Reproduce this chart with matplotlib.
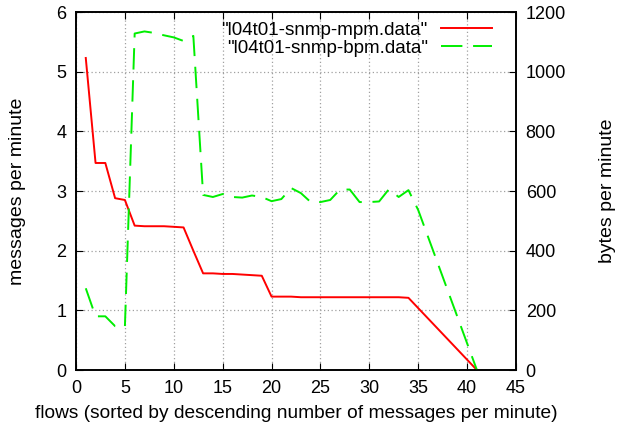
import matplotlib
matplotlib.use("Agg")
import matplotlib.pyplot as plt

plt.rcParams['font.family'] = ['Liberation Sans', 'DejaVu Sans']
plt.rcParams['font.size'] = 13

# flows sorted by messages per minute
mpm_x = [1, 2, 3, 4, 5, 6, 7, 8, 9, 10, 11, 12, 13, 14, 15, 16, 17, 18, 19,
         20, 21, 22, 23, 24, 25, 26, 27, 28, 29, 30, 31, 32, 33, 34, 41]
mpm_y = [5.23, 3.47, 3.47, 2.88, 2.85, 2.42, 2.41, 2.41, 2.41, 2.40, 2.39, 2.0,
         1.62, 1.62, 1.61, 1.61, 1.60, 1.59, 1.58,
         1.23, 1.23, 1.23, 1.22, 1.22, 1.22, 1.22, 1.22, 1.22, 1.22, 1.22,
         1.22, 1.22, 1.22, 1.21, 0.0]

bpm_x = list(range(1, 36)) + [41]
bpm_y = [274, 180, 180, 147, 144, 1128, 1135, 1130, 1122, 1115, 1103, 1120,
         587, 580, 590, 580, 578, 585, 580, 566, 573, 610, 593, 563, 563,
         570, 605, 605, 563, 563, 565, 606, 580, 603, 536, 0]

fig = plt.figure(figsize=(6.26, 4.30), dpi=100)
ax = fig.add_axes([0.1214, 0.1395, 0.7029, 0.8325])
ax2 = ax.twinx()

l1, = ax.plot(mpm_x, mpm_y, color='#ff0000', lw=1.4, label='"l04t01-snmp-mpm.data"')
l2, = ax2.plot(bpm_x, bpm_y, color='#00ee00', lw=1.4, dashes=(11, 5.5),
               label='"l04t01-snmp-bpm.data"')

ax.set_xlim(0, 45)
ax.set_ylim(0, 6)
ax2.set_ylim(0, 1200)
ax.set_xticks(range(0, 46, 5))
ax.set_yticks(range(0, 7))
ax2.set_yticks(range(0, 1201, 200))

for a in (ax, ax2):
    for s in a.spines.values():
        s.set_linewidth(1.2)

ax.grid(True, color='#a0a0a0', linestyle=(0, (1, 2)), lw=0.9)
ax.tick_params(direction='in', top=True, length=5, pad=7)
ax2.tick_params(direction='in', length=5, pad=7)

ax.set_xlabel('flows (sorted by descending number of messages per minute)',
              fontsize=13.8, labelpad=6)
ax.set_ylabel('messages per minute', fontsize=14, labelpad=22)
ax2.set_ylabel('bytes per minute', fontsize=14, labelpad=24)

ax.legend([l1, l2], [l1.get_label(), l2.get_label()], loc='upper right',
          markerfirst=False, frameon=False, handlelength=2.7, fontsize=13.6,
          borderaxespad=0.1, labelspacing=0.05, handletextpad=0.7,
          bbox_to_anchor=(0.967, 1.0))

fig.savefig('out.png', dpi=100)
